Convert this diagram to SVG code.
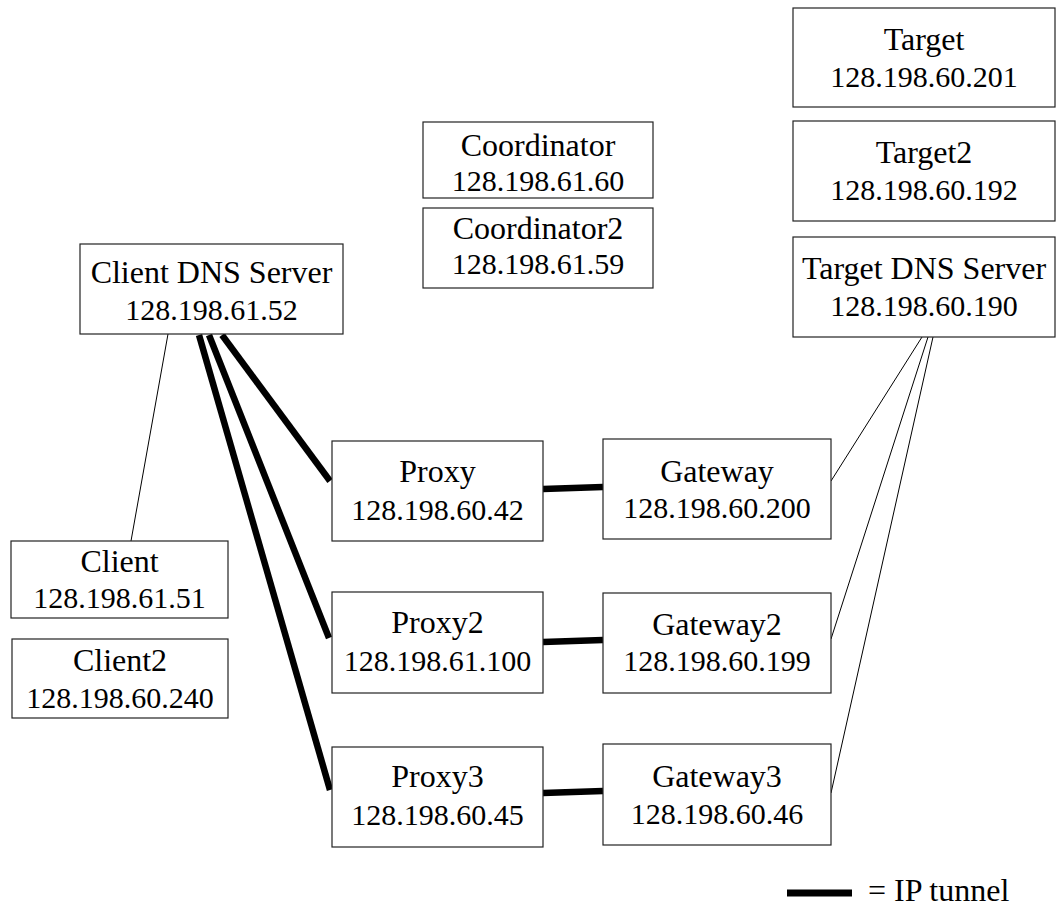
<svg xmlns="http://www.w3.org/2000/svg" width="1056" height="906" viewBox="0 0 1056 906">
<style>
rect.n{fill:#fff;stroke:#222;stroke-width:1.2}
text{font-family:'Liberation Serif','DejaVu Serif','Times New Roman',serif;fill:#000;text-anchor:middle}
.nm{font-size:32px}
.ip{font-size:30px}
.thin{stroke:#000;stroke-width:1;fill:none}
.tun{stroke:#000;stroke-width:6.5;fill:none;stroke-linecap:butt}
</style>
<rect width="1056" height="906" fill="#fff"/>
<g id="connectors">
<line class="thin" x1="168" y1="334" x2="131" y2="541"/>
<line class="tun" x1="222" y1="335" x2="330" y2="481"/>
<line class="tun" x1="209" y1="335" x2="329" y2="638"/>
<line class="tun" x1="199" y1="335" x2="330" y2="790"/>
<line class="tun" x1="543" y1="489" x2="603" y2="487"/>
<line class="tun" x1="543" y1="642" x2="603" y2="640"/>
<line class="tun" x1="543" y1="793" x2="603" y2="791"/>
<line class="thin" x1="922" y1="337" x2="831" y2="481"/>
<line class="thin" x1="928" y1="337" x2="831" y2="639"/>
<line class="thin" x1="933" y1="337" x2="831" y2="793"/>
</g>
<g font-family="Liberation Serif, DejaVu Serif, serif">
<g id="target"><rect class="n" x="793" y="8" width="262" height="99"/><text class="nm" x="924" y="50">Target</text><text class="ip" x="924" y="87">128.198.60.201</text></g>
<g id="target2"><rect class="n" x="793" y="121" width="262" height="100"/><text class="nm" x="924" y="163">Target2</text><text class="ip" x="924" y="200">128.198.60.192</text></g>
<g id="target-dns"><rect class="n" x="793" y="237" width="262" height="100"/><text class="nm" x="924" y="279">Target DNS Server</text><text class="ip" x="924" y="316">128.198.60.190</text></g>
<g id="coordinator"><rect class="n" x="423" y="122" width="230" height="76"/><text class="nm" x="538" y="156">Coordinator</text><text class="ip" x="538" y="191">128.198.61.60</text></g>
<g id="coordinator2"><rect class="n" x="423" y="208" width="230" height="80"/><text class="nm" x="538" y="239">Coordinator2</text><text class="ip" x="538" y="274">128.198.61.59</text></g>
<g id="client-dns"><rect class="n" x="80" y="244" width="263" height="90"/><text class="nm" x="211.5" y="283">Client DNS Server</text><text class="ip" x="211.5" y="320">128.198.61.52</text></g>
<g id="client"><rect class="n" x="11" y="541" width="217" height="77"/><text class="nm" x="119.5" y="572">Client</text><text class="ip" x="119.5" y="608">128.198.61.51</text></g>
<g id="client2"><rect class="n" x="12" y="639" width="216" height="79"/><text class="nm" x="120" y="671">Client2</text><text class="ip" x="120" y="708">128.198.60.240</text></g>
<g id="proxy"><rect class="n" x="332" y="441" width="211" height="100"/><text class="nm" x="437.5" y="482">Proxy</text><text class="ip" x="437.5" y="520">128.198.60.42</text></g>
<g id="gateway"><rect class="n" x="603" y="439" width="228" height="100"/><text class="nm" x="717" y="482">Gateway</text><text class="ip" x="717" y="518">128.198.60.200</text></g>
<g id="proxy2"><rect class="n" x="332" y="592" width="211" height="101"/><text class="nm" x="437.5" y="633">Proxy2</text><text class="ip" x="437.5" y="671">128.198.61.100</text></g>
<g id="gateway2"><rect class="n" x="603" y="593" width="228" height="100"/><text class="nm" x="717" y="635">Gateway2</text><text class="ip" x="717" y="671">128.198.60.199</text></g>
<g id="proxy3"><rect class="n" x="332" y="747" width="211" height="100"/><text class="nm" x="437.5" y="787">Proxy3</text><text class="ip" x="437.5" y="825">128.198.60.45</text></g>
<g id="gateway3"><rect class="n" x="603" y="744" width="228" height="101"/><text class="nm" x="717" y="787">Gateway3</text><text class="ip" x="717" y="824">128.198.60.46</text></g>
<g id="legend"><line class="tun" x1="787" y1="893" x2="852" y2="893" style="stroke-width:7"/><text x="868" y="901" style="font-size:32px;text-anchor:start">= IP tunnel</text></g>
</g>
</svg>
